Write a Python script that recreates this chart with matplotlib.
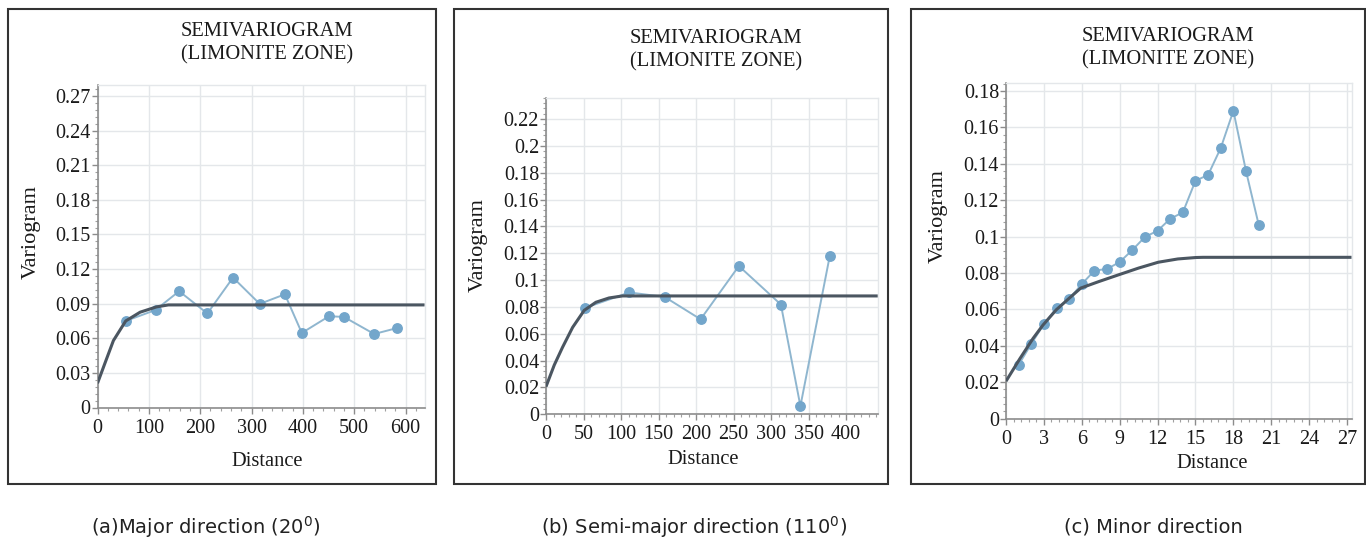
import matplotlib
matplotlib.use("Agg")
import matplotlib.pyplot as plt
from matplotlib.ticker import MultipleLocator, AutoMinorLocator, FuncFormatter
from matplotlib.patches import Rectangle

# ---------------- data ----------------
# (a) major direction
a_lag = [55, 113, 159, 214, 264, 316, 365, 398, 451, 480, 539, 583]
a_var = [0.075, 0.0845, 0.1008, 0.0815, 0.1126, 0.0898, 0.0981, 0.0646, 0.0791, 0.0785, 0.0637, 0.0688]
a_model_x = [0, 15, 31, 55, 83, 115, 138, 637]
a_model_y = [0.021, 0.039, 0.058, 0.075, 0.0826, 0.0872, 0.0889, 0.0889]

# (b) semi-major direction
b_lag = [52, 111, 158, 206, 257, 313, 339, 378]
b_var = [0.0793, 0.0908, 0.0875, 0.0708, 0.1105, 0.0818, 0.0061, 0.1176]
b_model_x = [0, 11, 22, 35.5, 51, 66.5, 84, 102, 442]
b_model_y = [0.0206, 0.0367, 0.0499, 0.0648, 0.0775, 0.0835, 0.0867, 0.0882, 0.0882]

# (c) minor direction
c_lag = list(range(1, 21))
c_var = [0.0295, 0.041, 0.0519, 0.0606, 0.0657, 0.0739, 0.0813, 0.0822, 0.0860, 0.0926,
         0.0998, 0.1032, 0.1098, 0.1133, 0.1307, 0.1339, 0.1487, 0.1691, 0.1360, 0.1066]
c_model_x = [0, 1.1, 2.14, 2.92, 3.97, 5.0, 5.92, 7.36, 8.92, 10.5, 12.05, 13.6, 15.05, 15.6, 27.35]
c_model_y = [0.0205, 0.0329, 0.044, 0.0513, 0.0597, 0.0661, 0.0717, 0.0753, 0.079, 0.0827,
             0.0859, 0.0877, 0.0885, 0.0886, 0.0886]

titles = "SEMIVARIOGRAM\n(LIMONITE ZONE)"
captions = ["(a)Major direction (20$^{0}$)", "(b) Semi-major direction (110$^{0}$)", "(c) Minor direction"]

serif = ["Liberation Serif", "DejaVu Serif"]
plt.rcParams["font.family"] = serif
plt.rcParams["mathtext.fontset"] = "dejavusans"

W, H = 1366, 539
fig = plt.figure(figsize=(W / 100, H / 100), dpi=100)
fig.patch.set_facecolor("white")


def px_axes(l, r, t, b):
    return fig.add_axes([l / W, 1 - b / H, (r - l) / W, (b - t) / H])


def fx(x):
    return x / W


def fy(y):
    return 1 - y / H


panels = [
    dict(box=(97.5, 424.5, 85.0, 407.5), xlim=637, ylim=0.2795, xmaj=100, ymaj=0.03,
         lag=a_lag, var=a_var, mx=a_model_x, my=a_model_y,
         title=(266.7, 43.5), ylab=(31.7, 232), xlab=(267, 461), cap=(205.8, 527),
         frame=(8, 436)),
    dict(box=(546.0, 877.7, 97.6, 414.3), xlim=442, ylim=0.236, xmaj=50, ymaj=0.02,
         lag=b_lag, var=b_var, mx=b_model_x, my=b_model_y,
         title=(715.7, 50.7), ylab=(478, 245), xlab=(703.5, 460), cap=(694, 527),
         frame=(454, 887.5)),
    dict(box=(1006.0, 1351.5, 82.5, 418.5), xlim=27.35, ylim=0.1847, xmaj=3, ymaj=0.02,
         lag=c_lag, var=c_var, mx=c_model_x, my=c_model_y,
         title=(1168.3, 47.8), ylab=(938, 216), xlab=(1211.8, 463.4), cap=(1153, 527),
         frame=(910.5, 1365)),
]


def tickfmt(v, pos):
    return "{:g}".format(round(v, 4))


for p, cap in zip(panels, captions):
    ax = px_axes(*p["box"])
    ax.set_xlim(0, p["xlim"])
    ax.set_ylim(0, p["ylim"])
    ax.xaxis.set_major_locator(MultipleLocator(p["xmaj"]))
    ax.yaxis.set_major_locator(MultipleLocator(p["ymaj"]))
    ax.xaxis.set_minor_locator(AutoMinorLocator(5))
    ax.yaxis.set_minor_locator(AutoMinorLocator(5))
    ax.xaxis.set_major_formatter(FuncFormatter(tickfmt))
    ax.yaxis.set_major_formatter(FuncFormatter(tickfmt))
    ax.grid(True, which="major", color="#e4e7ea", lw=1.0)
    ax.set_axisbelow(True)
    for s in ["top", "right"]:
        ax.spines[s].set_color("#e4e7ea")
        ax.spines[s].set_linewidth(1.0)
    for s in ["left", "bottom"]:
        ax.spines[s].set_color("#8c8c8c")
        ax.spines[s].set_linewidth(1.2)
    ax.tick_params(which="major", length=4, width=1, color="#8c8c8c", labelsize=14.5,
                   labelcolor="#1a1a1a", pad=1)
    ax.tick_params(axis="x", which="major", pad=4)
    ax.tick_params(which="minor", length=2.5, width=0.8, color="#a0a0a0")

    ax.plot(p["lag"], p["var"], color="#8fb6cf", lw=1.4, marker="o", ms=6.8,
            mfc="#73a6cb", mec="#73a6cb", zorder=3)
    ax.plot(p["mx"], p["my"], color="#4b5661", lw=2.2, zorder=4, solid_capstyle="butt")

    fig.text(fx(p["title"][0]), fy(p["title"][1]), titles, ha="center", va="center",
             fontsize=14.8, linespacing=1.3, color="#1a1a1a")
    fig.text(fx(p["ylab"][0]), fy(p["ylab"][1]), "Variogram", rotation=90, ha="center",
             va="center", fontsize=16, color="#1a1a1a")
    fig.text(fx(p["xlab"][0]), fy(p["xlab"][1]), "Distance", ha="center", va="center",
             fontsize=14.8, color="#1a1a1a")

    fig.text(fx(p["cap"][0]), fy(p["cap"][1]), cap, ha="center", va="center",
             family=["DejaVu Sans"], fontsize=14, color="#222222")
    l, r = p["frame"]
    fig.add_artist(Rectangle((fx(l), fy(484)), (r - l) / W, (484 - 9) / H,
                             transform=fig.transFigure, fill=False, ec="#333333", lw=1.5))

fig.savefig("out.png", dpi=100, facecolor="white")
